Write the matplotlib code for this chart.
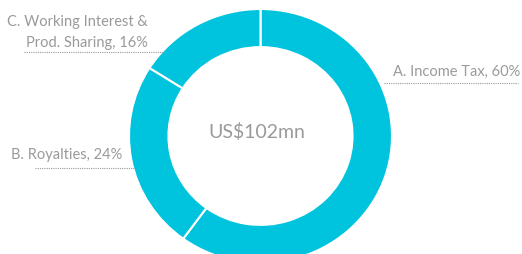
import matplotlib

matplotlib.use("Agg")
import matplotlib.pyplot as plt

# --- data ---
categories = ["A. Income Tax", "B. Royalties", "C. Working Interest &\nProd. Sharing"]
shares = [60, 24, 16]
total_label = "US$102mn"

CYAN = "#00c3de"
GREY = "#9a9a9a"
W, H = 522, 255

plt.rcParams["font.family"] = ["Lato", "DejaVu Sans"]

fig = plt.figure(figsize=(W / 100, H / 100), dpi=100)

# donut axes: unit-radius pie, stretched so the ring is a touch wider than tall
cx, cy = 260.5, 137.0  # pixels, y from top
rx, ry = 131.5, 127.0
ax = fig.add_axes([0, 0, 1, 1])
ax.pie(
    shares,
    colors=[CYAN] * len(shares),
    startangle=90,
    counterclock=False,
    radius=1,
    wedgeprops=dict(width=0.3, edgecolor="white", linewidth=1.5),
)
ax.set_aspect("auto")
ax.set_xlim(-cx / rx, (W - cx) / rx)
ax.set_ylim(-(H - cy) / ry, cy / ry)
ax.axis("off")

# overlay in pixel coords for text and leader lines
ov = fig.add_axes([0, 0, 1, 1])
ov.set_xlim(0, W)
ov.set_ylim(H, 0)
ov.axis("off")

ov.text(257, 132, total_label, ha="center", va="center", fontsize=14, color=GREY)

labels = [f"{c}, {s}%" for c, s in zip(categories, shares)]
dot = dict(color=GREY, lw=0.8, linestyle=(0, (1, 1)))

# A (right)
ov.text(520, 72, labels[0], ha="right", va="center", fontsize=10.5, color=GREY)
ov.plot([384, 518], [84, 84], **dot)
# B (left)
ov.text(11, 155, labels[1], ha="left", va="center", fontsize=10.5, color=GREY)
ov.plot([35, 135], [169, 169], **dot)
# C (top left), both lines right-aligned
c_first, c_second = labels[2].split("\n")
ov.text(148, 22, c_first, ha="right", va="center", fontsize=10.5, color=GREY)
ov.text(148, 43, c_second, ha="right", va="center", fontsize=10.5, color=GREY)
ov.plot([24, 165], [53, 53], **dot)

fig.savefig("out.png", dpi=100)
